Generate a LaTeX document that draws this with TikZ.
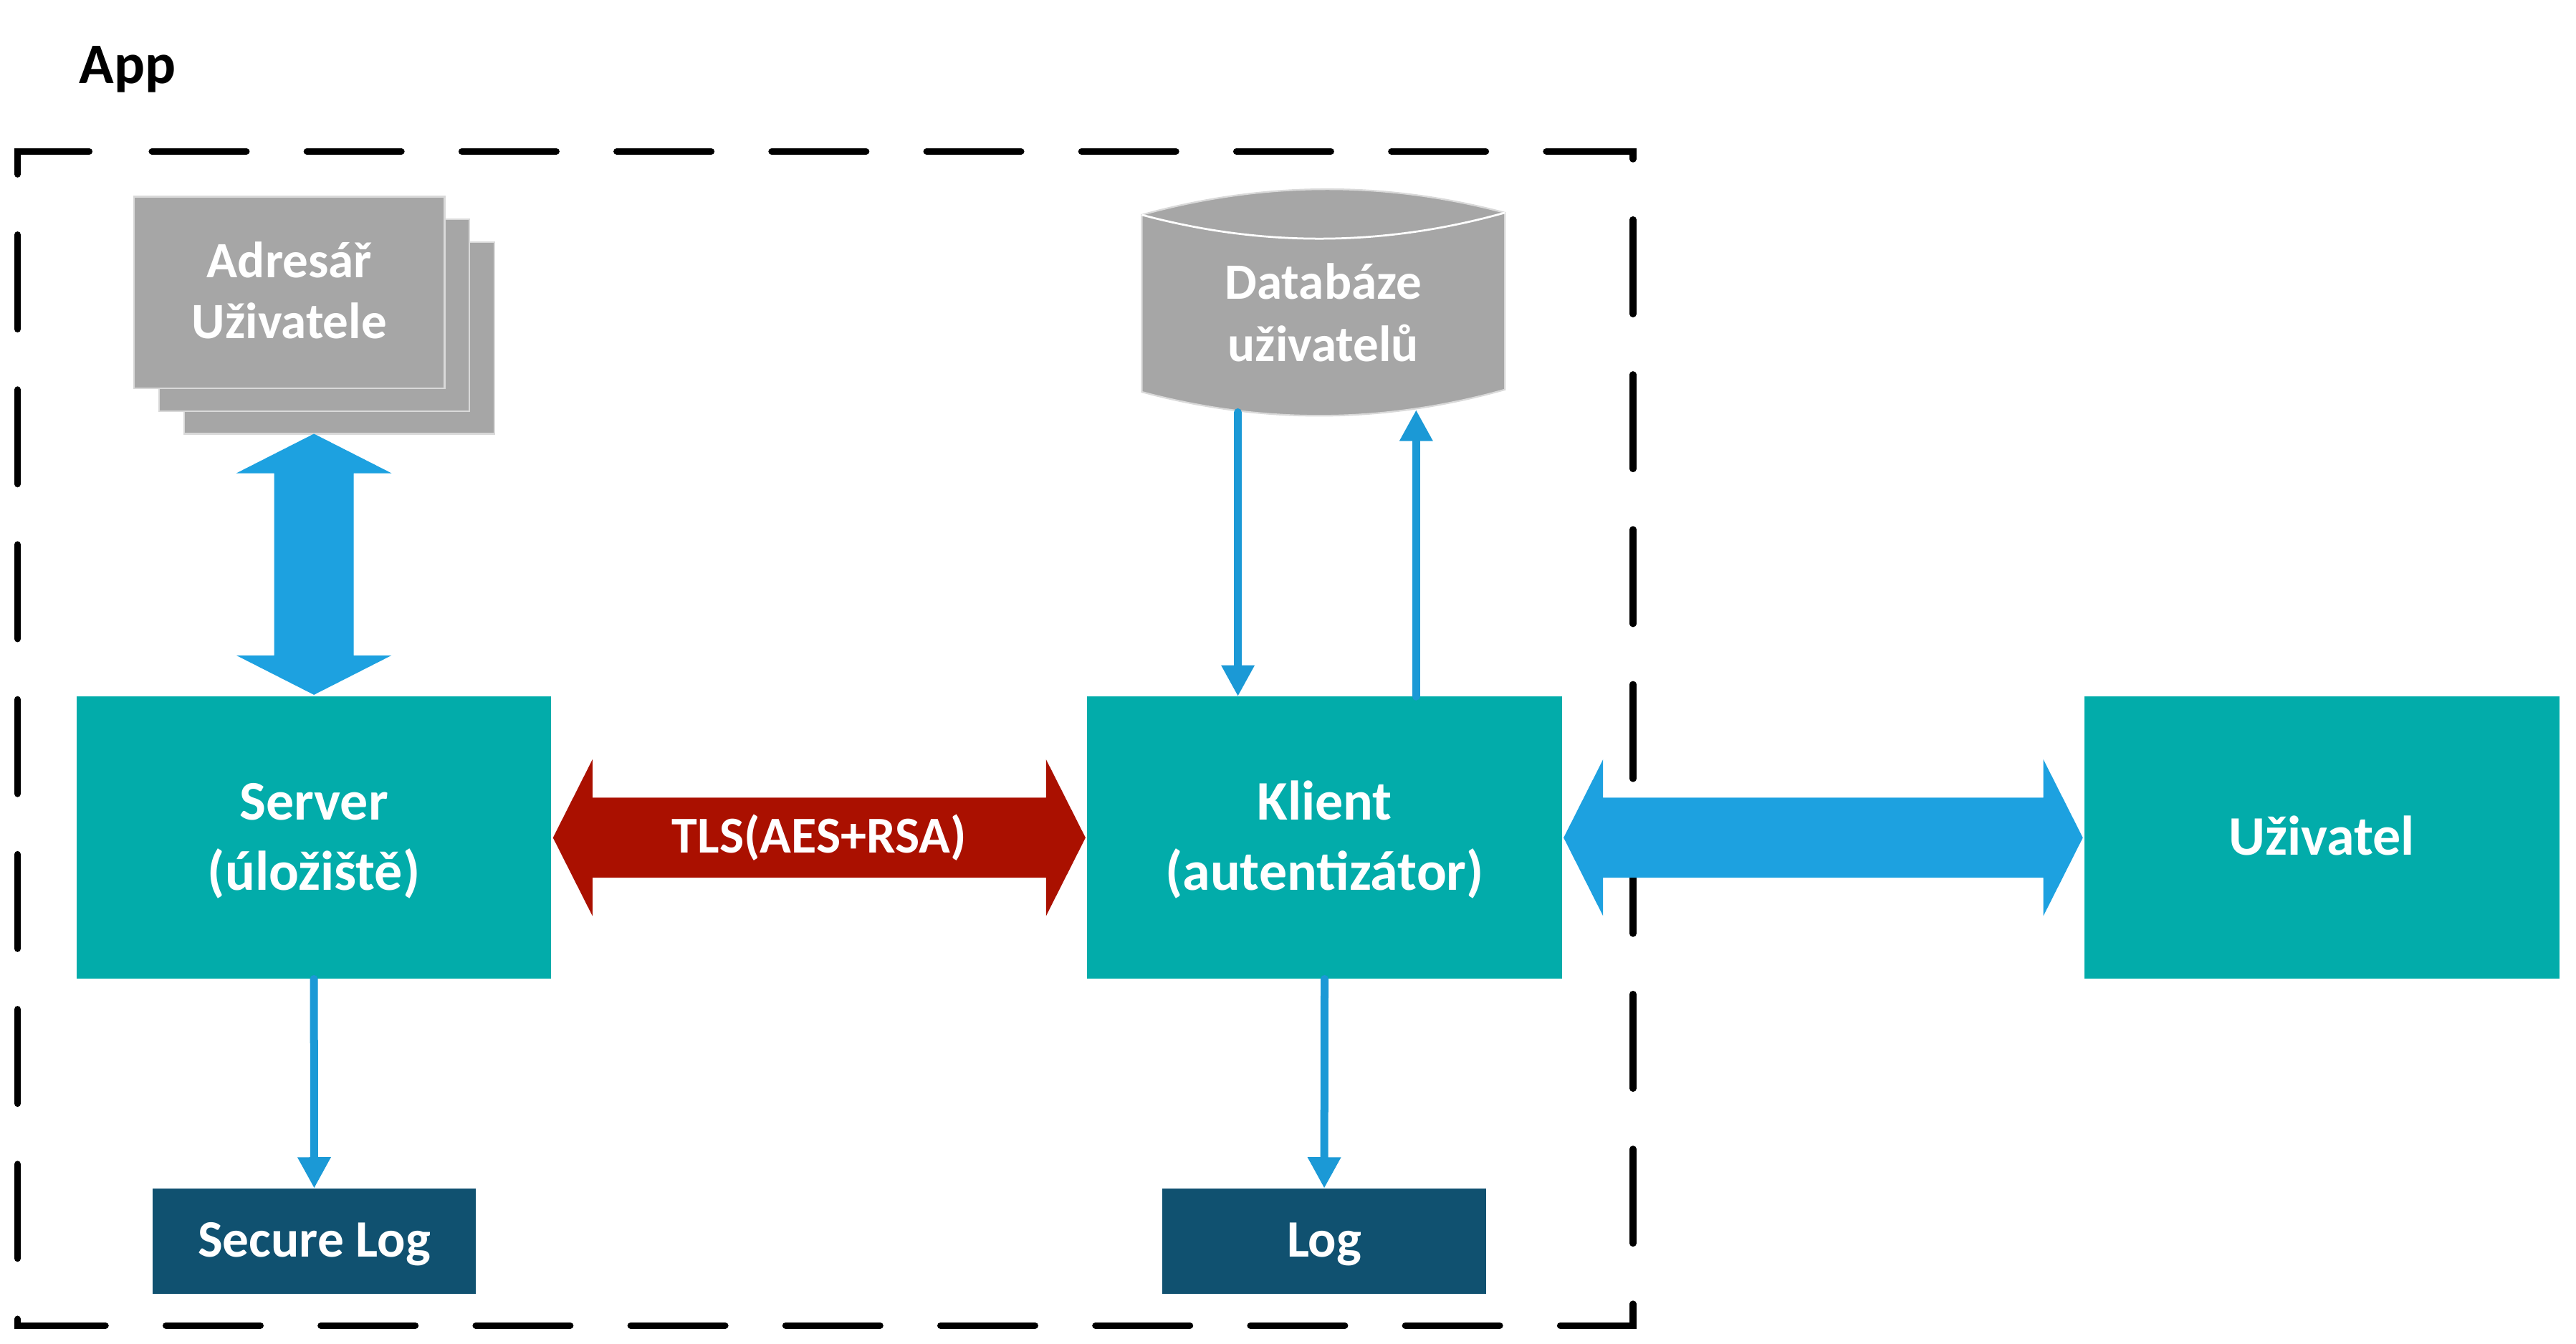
\documentclass[tikz,border=0pt]{standalone}
\usepackage{fontspec}
\setmainfont{Carlito}
\usetikzlibrary{arrows.meta,calc}
\definecolor{tealbox}{RGB}{2,172,170}
\definecolor{fatblue}{RGB}{29,161,224}
\definecolor{thinblue}{RGB}{27,153,214}
\definecolor{tlsred}{RGB}{170,16,0}
\definecolor{navybox}{RGB}{16,81,112}
\definecolor{stackgray}{RGB}{166,166,166}
\definecolor{edgegray}{RGB}{217,217,217}
\newcommand{\twolines}[2]{\begin{tabular}[t]{@{}c@{}}#1\\#2\end{tabular}}
\newcommand{\fatH}[3]{\fill[#3] (#1) -- ($(#1)+(24,-47.6)$) -- ($(#1)+(24,-24.35)$) -- ($(#2)+(-24,-24.35)$) -- ($(#2)+(-24,-47.6)$) -- (#2) -- ($(#2)+(-24,47.6)$) -- ($(#2)+(-24,24.35)$) -- ($(#1)+(24,24.35)$) -- ($(#1)+(24,47.6)$) -- cycle;}
\newcommand{\fatV}[3]{\fill[#3] (#1) -- ($(#1)+(47.25,24)$) -- ($(#1)+(24.25,24)$) -- ($(#2)+(24.25,-24)$) -- ($(#2)+(47.25,-24)$) -- (#2) -- ($(#2)+(-47.25,-24)$) -- ($(#2)+(-24.25,-24)$) -- ($(#1)+(-24.25,24)$) -- ($(#1)+(-47.25,24)$) -- cycle;}
\begin{document}
\begin{tikzpicture}[x=0.5pt,y=-0.5pt,
  box/.style={rectangle, fill=tealbox, text=white, font=\fontsize{17pt}{21.3pt}\selectfont\bfseries, minimum width=144.5pt, minimum height=86pt, inner sep=0pt, outer sep=0pt},
  twoline/.style={text height=0pt, text depth=10.6pt},
  logbox/.style={rectangle, fill=navybox, text=white, font=\fontsize{16pt}{19pt}\selectfont\bfseries, minimum width=98.5pt, minimum height=32pt, inner sep=0pt, outer sep=0pt, text height=9.9pt, text depth=0pt},
  sheet/.style={rectangle, fill=stackgray, draw=edgegray, line width=0.5pt, minimum width=94.5pt, minimum height=58.4pt, inner sep=0pt, outer sep=0pt},
  graytext/.style={text=white, font=\fontsize{15.5pt}{18.5pt}\selectfont\bfseries, inner sep=0pt},
  thinarrow/.style={draw=thinblue, line width=2.4pt, line cap=round, -{Triangle[length=9.5pt,width=9.5pt]}},
  groupline/.style={draw=black, line width=2pt, line cap=round, dash pattern=on 28.75pt off 18.4pt, dash phase=36.25pt}
]
\useasboundingbox (0,0) rectangle (1568,818);
% group frame
\draw[groupline] (70.7,92.2) -- (994,92.2) -- (994,807) -- (10.7,807) -- (10.7,92.2) -- cycle;
\node[anchor=base west, font=\fontsize{17.5pt}{21pt}\selectfont\bfseries, inner sep=0pt] (app) at (47.9,50.6) {App};
% address book stack
\node[sheet] (adr3) at (206.45,205.7) {};
\node[sheet] (adr2) at (191.3,191.9) {};
\node[sheet, graytext, text height=0pt, text depth=9pt] (adr1) at (176.15,178.1) {\twolines{Adresář}{Uživatele}};
% database
\fill[stackgray, draw=edgegray, line width=0.5pt] (695,130.8) .. controls (768.67,110.43) and (842.33,110.0) .. (916,129.5) -- (916,237.2) .. controls (842.33,257.93) and (768.67,258.4) .. (695,238.6) -- cycle;
\draw[white, line width=0.6pt] (695,130.8) .. controls (768.67,150.57) and (842.33,150.13) .. (916,129.5);
\node[graytext, font=\fontsize{15.5pt}{18.85pt}\selectfont\bfseries, text height=0pt, text depth=8.8pt] (db) at (805.5,191) {\twolines{Databáze}{uživatelů}};
\coordinate (dbout) at (753.5,251);
\coordinate (dbin) at (862,249.5);
% main boxes
\node[box, twoline] (server) at (191.1,510) {\twolines{Server}{(úložiště)}};
\node[box, twoline] (klient) at (806.25,510) {\twolines{Klient}{(autentizátor)}};
\node[box, text height=10.4pt, text depth=0pt] (uziv) at (1413.3,510) {Uživatel};
\node[logbox] (slog) at (191.25,755.5) {Secure Log};
\node[logbox] (log) at (806.05,755.5) {Log};
% fat arrows
\coordinate (adrTip) at (server.north |- adr3.south);
\coordinate (srvTip) at ($(server.north)+(0,-1)$);
\fatV{adrTip}{srvTip}{fatblue}
\coordinate (tlsL) at ($(server.east)+(1,0)$);
\coordinate (tlsR) at ($(klient.west)+(-1,0)$);
\fatH{tlsL}{tlsR}{tlsred}
\node[text=white, font=\fontsize{15.75pt}{19pt}\selectfont\bfseries, inner sep=0pt, text height=9.4pt, text depth=0pt] (tls) at ($(server.east)!0.5!(klient.west)$) {TLS(AES+RSA)};
\coordinate (usrL) at ($(klient.east)+(1,0)$);
\coordinate (usrR) at ($(uziv.west)+(-1,0)$);
\fatH{usrL}{usrR}{fatblue}
% thin arrows
\draw[thinarrow] (server.south) -- (slog.north);
\draw[thinarrow] (klient.south) -- (log.north);
\draw[thinarrow] (dbout) -- (dbout |- klient.north);
\draw[thinarrow] (dbin |- klient.north) -- (dbin);
\end{tikzpicture}
\end{document}
